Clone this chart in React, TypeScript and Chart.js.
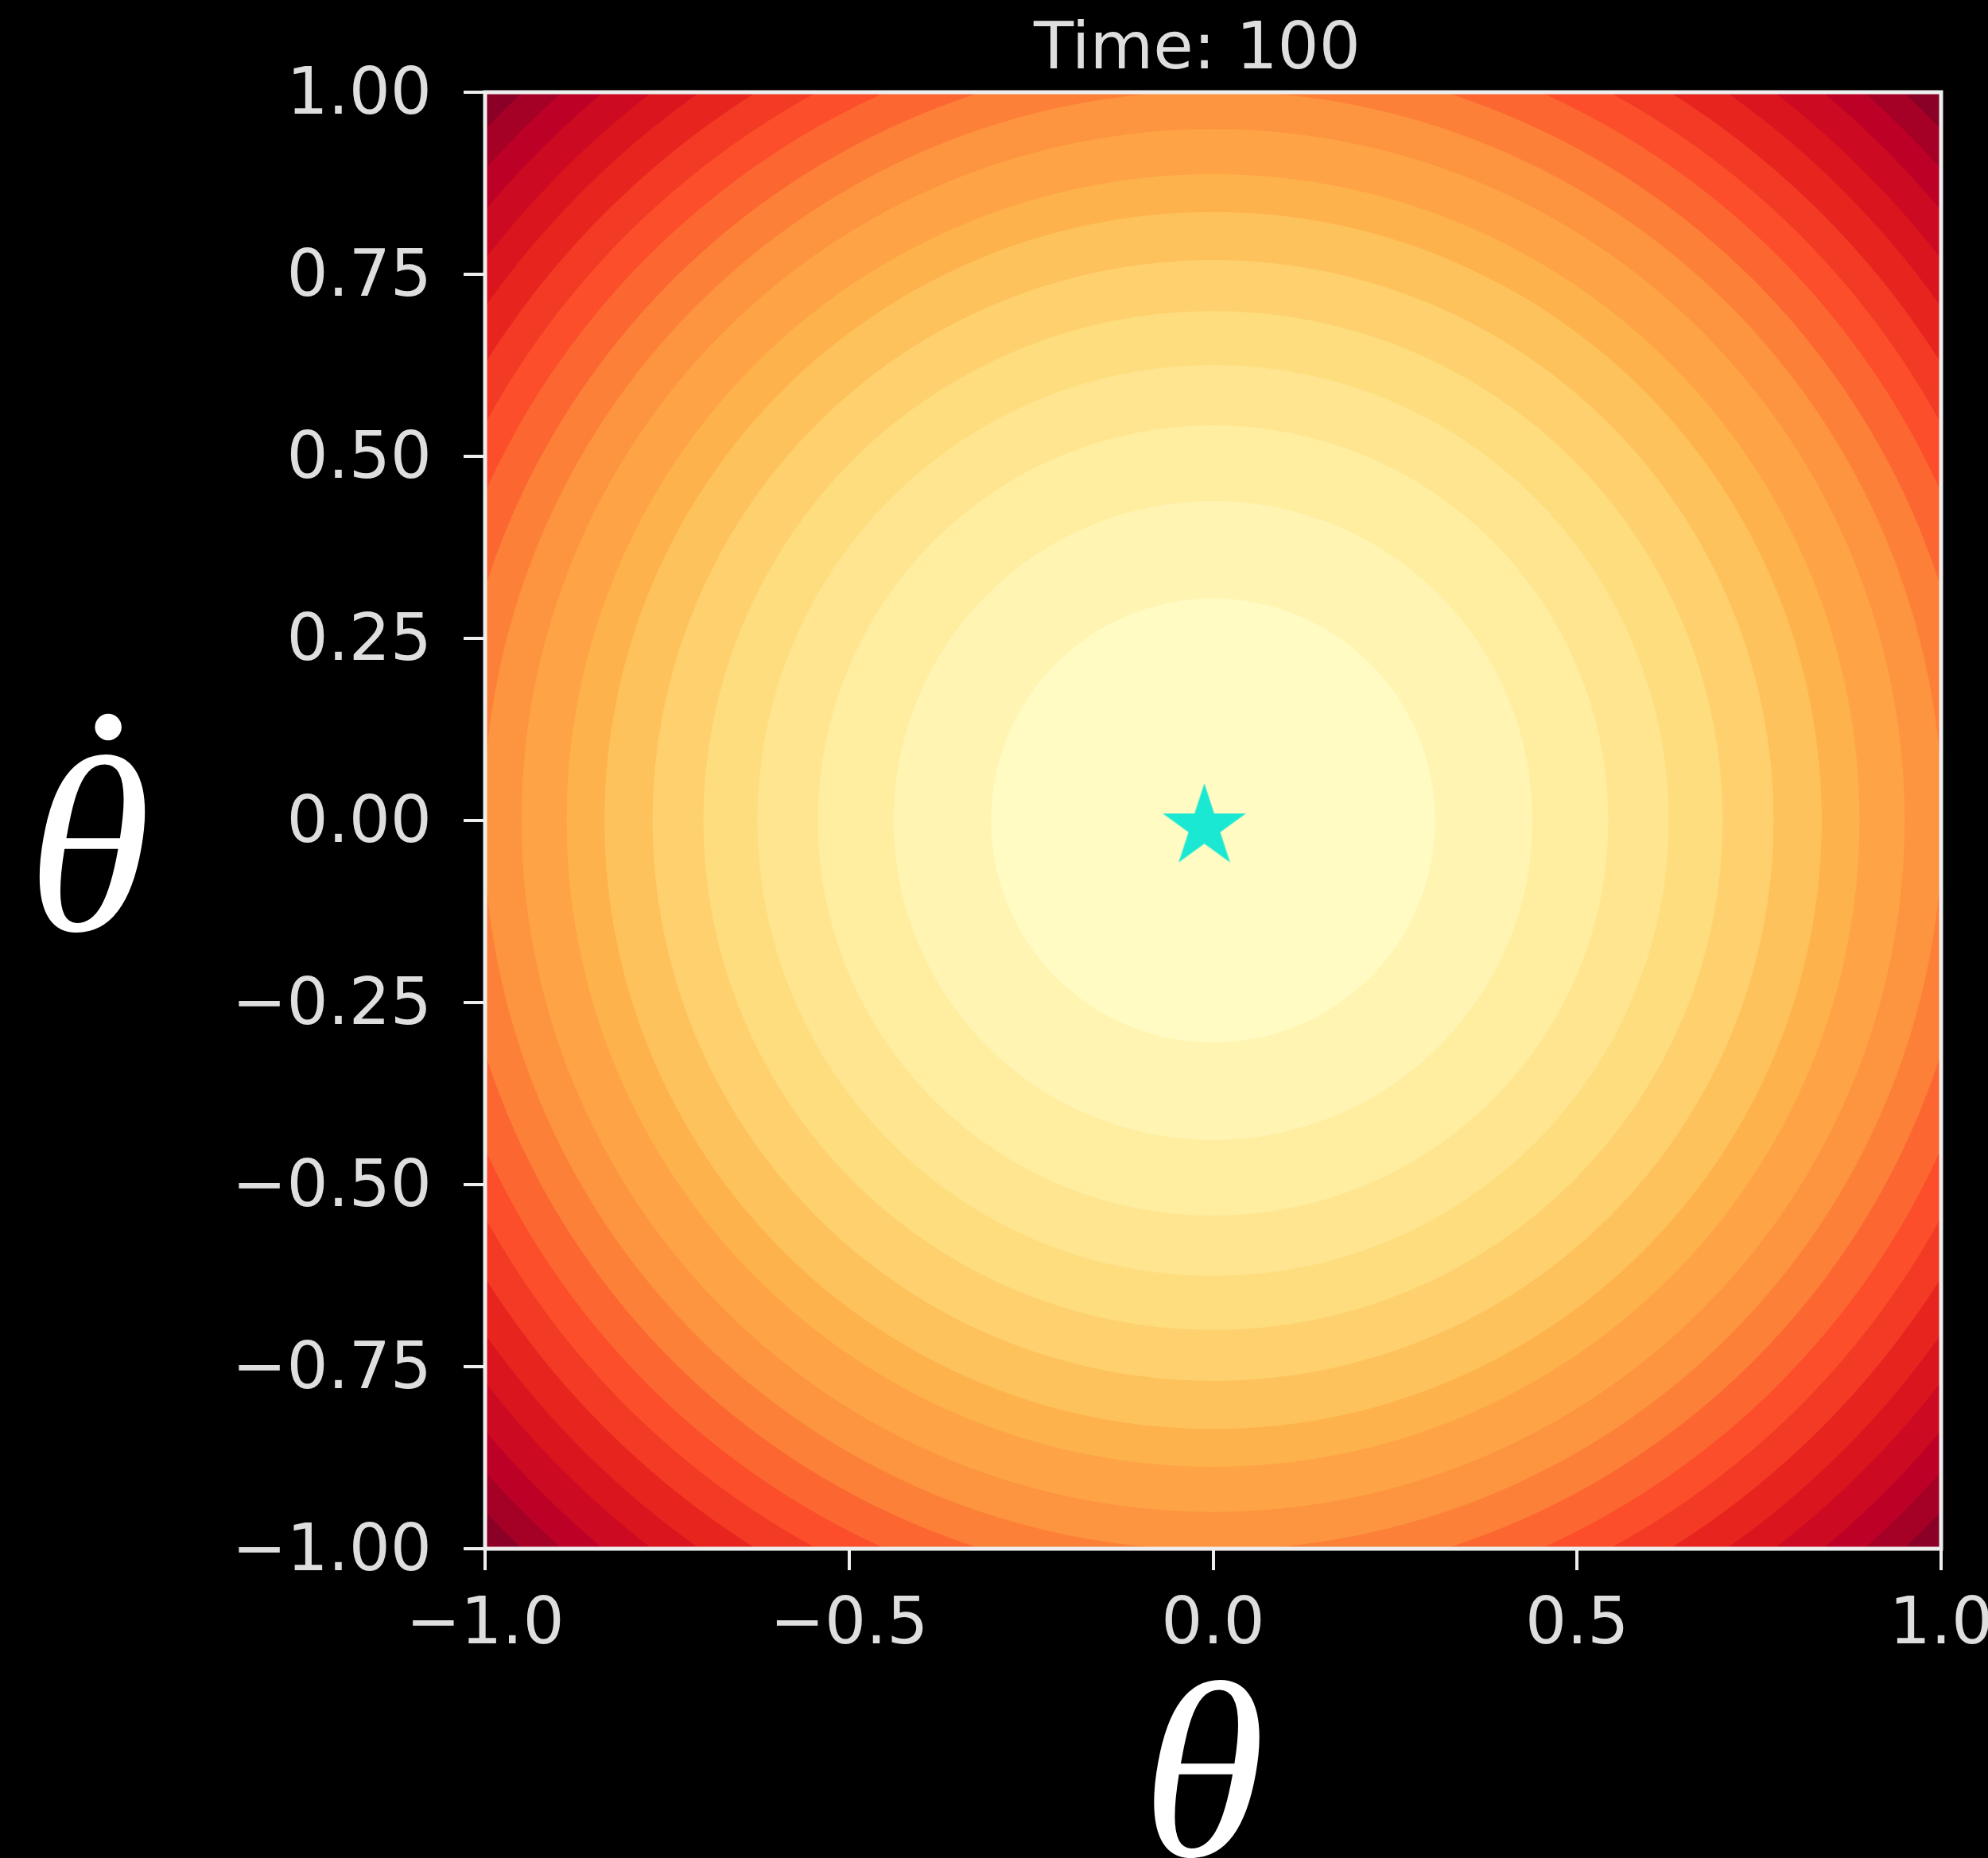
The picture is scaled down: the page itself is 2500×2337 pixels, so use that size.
import React, { useEffect, useRef } from 'react';
import { Chart, registerables } from 'chart.js';

Chart.register(...registerables);

// ---- text ----
const titleText = 'Time: 100';
const xAxisLabel = 'θ';
const yAxisLabel = 'θ';
const yAxisLabelDot = '˙';

// ---- ticks ----
const xTickValues = [-1, -0.5, 0, 0.5, 1];
const xTickLabels = ['−1.0', '−0.5', '0.0', '0.5', '1.0'];
const yTickValues = [-1, -0.75, -0.5, -0.25, 0, 0.25, 0.5, 0.75, 1];
const yTickLabels = ['−1.00', '−0.75', '−0.50', '−0.25', '0.00', '0.25', '0.50', '0.75', '1.00'];

// ---- filled contour bands (outer radius of each band, outermost first) ----
const ringRadii = [1.42, 1.379, 1.342, 1.305, 1.263, 1.224, 1.181, 1.139, 1.097, 1.05, 1.002, 0.95, 0.888, 0.836, 0.77, 0.7, 0.626, 0.543, 0.439, 0.305];
const ringCenterX = [0];
const ringCenterY = [0];

// ---- star marker ----
const starX = [-0.012];
const starY = [-0.009];

// ---- styles ----
const ringColors = [
  '#8A0026', '#A50026', '#BD0026', '#CC0A21', '#DB151E', '#E8241F', '#F23A24', '#FC4E2A', '#FC6731', '#FD8038',
  '#FD943F', '#FEA346', '#FEB24C', '#FEC25D', '#FED16E', '#FEDD7E', '#FFE58F', '#FFEDA0', '#FFF4B2', '#FFFBC3',
];
const STAR_COLOR = '#1BE8D2';
const TEXT_COLOR = '#dedede';
const SPINE_COLOR = '#eeeeee';
const LABEL_FONT = 'italic 316px "Liberation Serif"';

function makeStar(R: number): HTMLCanvasElement {
  const c = document.createElement('canvas');
  const size = Math.ceil(2 * R + 4);
  c.width = size;
  c.height = size;
  const g = c.getContext('2d')!;
  const cx = size / 2;
  const cy = size / 2;
  const inner = R * 0.381966;
  g.beginPath();
  for (let k = 0; k < 10; k++) {
    const rr = k % 2 === 0 ? R : inner;
    const a = -Math.PI / 2 + (k * Math.PI) / 5;
    const px = cx + rr * Math.cos(a);
    const py = cy + rr * Math.sin(a);
    if (k === 0) g.moveTo(px, py);
    else g.lineTo(px, py);
  }
  g.closePath();
  g.fillStyle = STAR_COLOR;
  g.fill();
  return c;
}

const bgPlugin = {
  id: 'bgFill',
  beforeDraw(chart: any) {
    const { ctx, width, height } = chart;
    ctx.save();
    ctx.fillStyle = '#000000';
    ctx.fillRect(0, 0, width, height);
    ctx.restore();
  },
};

const spinePlugin = {
  id: 'spines',
  afterDatasetsDraw(chart: any) {
    const { ctx, chartArea } = chart;
    ctx.save();
    ctx.strokeStyle = SPINE_COLOR;
    ctx.lineWidth = 5;
    ctx.strokeRect(chartArea.left, chartArea.top, chartArea.right - chartArea.left, chartArea.bottom - chartArea.top);
    ctx.restore();
  },
};

const textPlugin = {
  id: 'extraText',
  afterDraw(chart: any) {
    const { ctx, chartArea } = chart;
    const midX = (chartArea.left + chartArea.right) / 2;
    const midY = (chartArea.top + chartArea.bottom) / 2;
    ctx.save();
    // title
    ctx.fillStyle = TEXT_COLOR;
    ctx.textAlign = 'center';
    ctx.textBaseline = 'middle';
    ctx.font = '82px "DejaVu Sans"';
    ctx.fillText(titleText, midX - 20, 65);
    // axis labels
    ctx.fillStyle = '#ffffff';
    ctx.textBaseline = 'alphabetic';
    ctx.font = LABEL_FONT;
    ctx.fillText(xAxisLabel, midX - 12, chart.height - 3);
    ctx.fillText(yAxisLabel, 112, midY + 138);
    ctx.fillText(yAxisLabelDot, 116, midY + 75);
    ctx.restore();
  },
};

export default function App() {
  const ref = useRef<HTMLCanvasElement | null>(null);

  useEffect(() => {
    document.body.style.margin = '0';
    document.body.style.background = '#000';
    const canvas = ref.current;
    if (!canvas) return;
    const star = makeStar(55);

    const ringPoints = ringRadii.map(() => ({ x: ringCenterX[0], y: ringCenterY[0] }));
    const starPoints = starX.map((x, i) => ({ x, y: starY[i] }));

    const chart = new Chart(canvas, {
      type: 'scatter',
      data: {
        datasets: [
          {
            label: 'optimum',
            data: starPoints,
            pointStyle: star as any,
            pointRadius: 10,
            order: 0,
          } as any,
          {
            label: 'value',
            data: ringPoints,
            pointRadius: (ctx: any) => {
              const xs = ctx.chart.scales.x;
              if (!xs || xs.width === undefined) return 0;
              const r = ringRadii[ctx.dataIndex];
              const p = Math.abs(xs.getPixelForValue(r) - xs.getPixelForValue(0));
              return isFinite(p) ? p : 0;
            },
            pointBackgroundColor: ringColors,
            pointBorderWidth: 0,
            pointBorderColor: 'rgba(0,0,0,0)',
            clip: 0,
            order: 1,
          } as any,
        ],
      },
      options: {
        responsive: false,
        devicePixelRatio: 1,
        animation: false,
        events: [],
        layout: { padding: { top: 116, right: 59, left: 0, bottom: 0 } },
        plugins: {
          legend: { display: false },
          tooltip: { enabled: false },
          title: { display: false },
        },
        scales: {
          x: {
            type: 'linear',
            position: 'bottom',
            min: -1,
            max: 1,
            afterBuildTicks: (s: any) => {
              s.ticks = xTickValues.map((v) => ({ value: v }));
            },
            afterFit: (s: any) => {
              s.height = 389;
              s.paddingLeft = 0;
              s.paddingRight = 0;
            },
            ticks: {
              autoSkip: false,
              maxRotation: 0,
              minRotation: 0,
              padding: 22,
              color: TEXT_COLOR,
              font: { family: 'DejaVu Sans', size: 82 },
              callback: (v: any) => xTickLabels[xTickValues.indexOf(Number(v))],
            },
            grid: { drawOnChartArea: false, drawTicks: true, tickLength: 27, color: SPINE_COLOR, lineWidth: 4 },
            border: { display: false },
            title: { display: false },
          },
          y: {
            type: 'linear',
            position: 'left',
            min: -1,
            max: 1,
            afterBuildTicks: (s: any) => {
              s.ticks = yTickValues.map((v) => ({ value: v }));
            },
            afterFit: (s: any) => {
              s.width = 610;
              s.paddingTop = 0;
              s.paddingBottom = 0;
            },
            ticks: {
              autoSkip: false,
              padding: 40,
              labelOffset: 6,
              color: TEXT_COLOR,
              font: { family: 'DejaVu Sans', size: 82 },
              callback: (v: any) => yTickLabels[yTickValues.indexOf(Number(v))],
            },
            grid: { drawOnChartArea: false, drawTicks: true, tickLength: 27, color: SPINE_COLOR, lineWidth: 4 },
            border: { display: false },
          },
        },
      },
      plugins: [bgPlugin, spinePlugin, textPlugin],
    } as any);

    return () => {
      chart.destroy();
    };
  }, []);

  return (
    <div style={{ width: 2500, height: 2337, background: '#000' }}>
      <canvas ref={ref} width={2500} height={2337} style={{ width: 2500, height: 2337, display: 'block' }} />
    </div>
  );
}
